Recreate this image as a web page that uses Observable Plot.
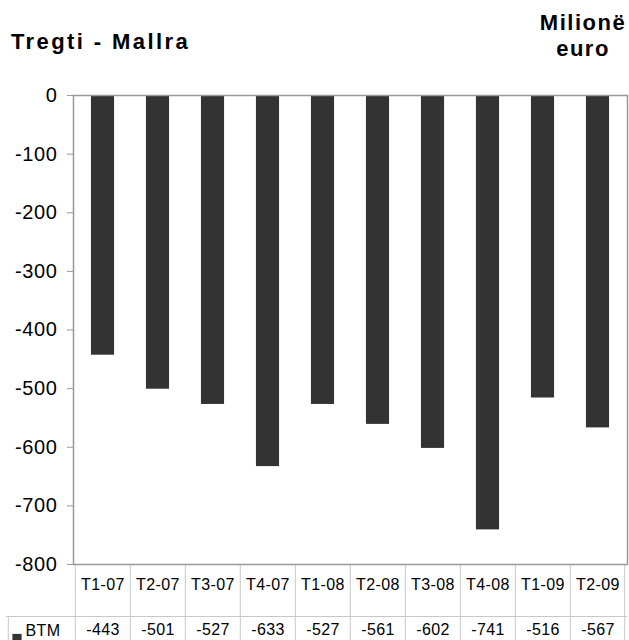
<!DOCTYPE html>
<html>
<head>
<meta charset="utf-8">
<script src="https://cdn.jsdelivr.net/npm/d3@7"></script>
<script src="https://cdn.jsdelivr.net/npm/@observablehq/plot@0.6"></script>
<style>
  html, body { margin: 0; padding: 0; background: #fff; }
  #wrap { position: relative; width: 629px; height: 640px; overflow: hidden; font-family: "Liberation Sans", Arial, sans-serif; background: #fff; }
  .title { position: absolute; z-index: 2; font-weight: bold; font-size: 22px; line-height: 26px; color: #000; }
  #t1 { left: 11px; top: 29px; letter-spacing: 2.4px; }
  #t2 { left: 533px; width: 100px; top: 10px; text-align: center; letter-spacing: 1.5px; }
  #chart { position: absolute; left: 0; top: 0; z-index: 1; }
  #chart svg { background: transparent !important; }
  .ytick text { letter-spacing: 0.6px; }
  .tbl { letter-spacing: 0.4px; }
</style>
</head>
<body>
<div id="wrap">
  <div class="title" id="t1">Tregti - Mallra</div>
  <div class="title" id="t2">Milionë<br>euro</div>
  <div id="chart"></div>
</div>
<script>
const categories = ["T1-07","T2-07","T3-07","T4-07","T1-08","T2-08","T3-08","T4-08","T1-09","T2-09"];
const btm = [-443,-501,-527,-633,-527,-561,-602,-741,-516,-567];
const seriesName = "BTM";
const yTicks = [0,-100,-200,-300,-400,-500,-600,-700,-800];

const data = categories.map((q, i) => ({q, v: btm[i]}));

const W = 629, H = 640, mL = 73, mR = 2, mT = 95, mB = 76;
const step = (W - mL - mR) / categories.length;
const barW = 23.5;
const inset = (step - barW) / 2;
const grid = "#c8c8c8";
const axisGray = "#999";
const first = categories[0], last = categories[categories.length - 1];

const plot = Plot.plot({
  width: W, height: H,
  marginLeft: mL, marginRight: mR, marginTop: mT, marginBottom: mB,
  style: {fontFamily: '"Liberation Sans", Arial, sans-serif', background: "transparent", color: "#000"},
  x: {domain: categories, padding: 0, axis: null},
  y: {domain: [-800, 0], axis: null},
  marks: [
    Plot.barY(data, {x: "q", y: "v", fill: "#333", insetLeft: inset, insetRight: inset}),
    // table vertical lines (header row + value row)
    Plot.ruleX(categories, {x: d => d, dx: -step / 2, stroke: grid, insetTop: H - mT - mB, insetBottom: -mB}),
    Plot.ruleX([last], {x: d => d, dx: step / 2 - 1, stroke: grid, insetTop: H - mT - mB, insetBottom: -mB}),
    Plot.ruleX([first], {x: d => d, dx: -step / 2 - (mL - 6), stroke: grid, insetTop: H - mT - mB + 52, insetBottom: -mB}),
    Plot.ruleY([-800], {dy: 52, stroke: grid, insetLeft: -(mL - 6)}),
    // frame
    Plot.frame({stroke: axisGray, strokeWidth: 1.5}),
    Plot.axisY({ticks: yTicks, tickSize: 6, tickPadding: 10, stroke: axisGray, fill: "#000", fontSize: 20, label: null, tickFormat: d => String(d), className: "ytick"}),
    // table texts
    Plot.text(categories, {x: d => d, frameAnchor: "bottom", dy: 25, fontSize: 16, fill: "#000", className: "tbl"}),
    Plot.text(data, {x: "q", text: d => String(d.v), frameAnchor: "bottom", dy: 70, fontSize: 16, fill: "#000", className: "tbl"}),
    Plot.text([seriesName], {frameAnchor: "bottom-left", dx: 25 - mL, dy: 71, textAnchor: "start", fontSize: 16, fill: "#000", className: "tbl"}),
    Plot.dot([seriesName], {frameAnchor: "bottom-left", dx: 16.5 - mL, dy: 74, symbol: "square", r: 5.2, fill: "#333", stroke: "none"})
  ]
});
document.getElementById("chart").appendChild(plot);
</script>
</body>
</html>
